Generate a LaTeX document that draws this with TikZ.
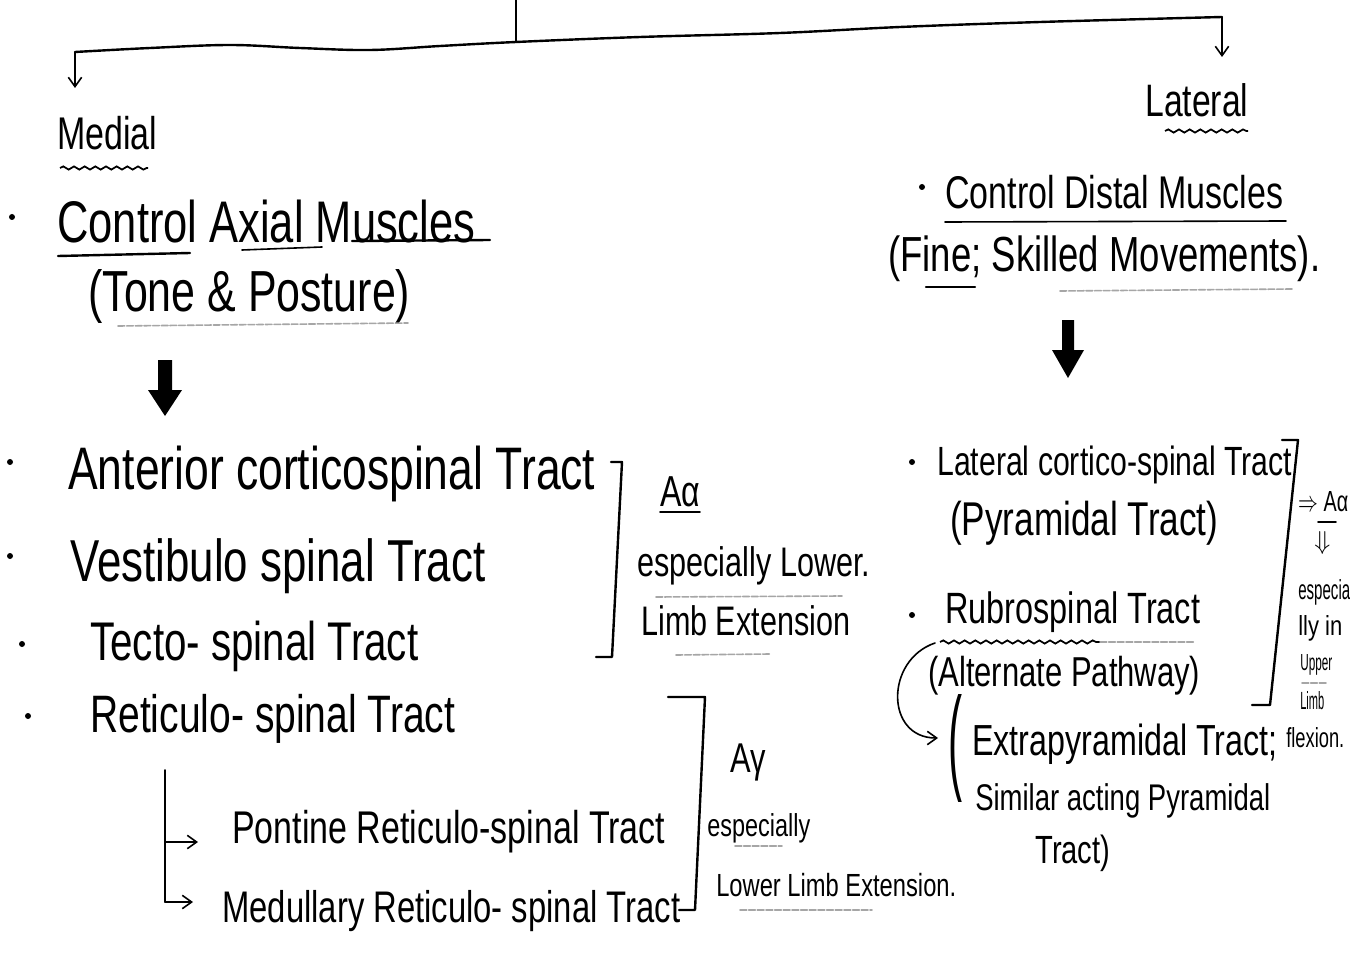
\documentclass[tikz,border=0pt]{standalone}
\usepackage{fontspec}
\setmainfont{Liberation Sans}
\usetikzlibrary{arrows.meta,decorations.pathmorphing}
\newlength\px
\setlength\px{0.75pt}
% handwriting-like text: fitted to a width (px), stretched upwards
\newcommand{\hw}[2]{\scalebox{1}[1.35]{\resizebox{#1\px}{!}{#2}}}
% text fitted to a width and a cap height (px)
\newcommand{\hwb}[3]{\resizebox{#1\px}{#2\px}{#3}}
\tikzset{
  ink/.style={line width=1.8pt, line cap=round, line join=round},
  thin ink/.style={line width=1.2pt, line cap=round, line join=round},
  faint/.style={line width=1.2pt, gray!70, dash pattern=on 5pt off 1.5pt, line cap=round},
  wavy/.style={line width=1.3pt, decorate, decoration={snake, amplitude=1.2pt, segment length=8pt}},
  txt/.style={inner sep=0pt, anchor=west},
  barb/.style={-{Straight Barb[length=7pt,width=10pt]}},
  dot/.style={fill=black}
}
\begin{document}
\begin{tikzpicture}[x=0.75pt,y=-0.75pt]
\useasboundingbox (0,0) rectangle (1350,970);
\fill[white] (0,0) rectangle (1350,970);

% ---- top branching ----
\coordinate (stem) at (516,0);
\coordinate (fork) at (516,42);
\coordinate (lend) at (75,52);
\coordinate (rend) at (1222,17);
\coordinate (ltip) at (75,88);
\coordinate (rtip) at (1222,57);
\draw[ink] (stem) -- (fork);
\draw[ink] plot[smooth, tension=0.6] coordinates
  {(75,52) (150,48) (230,45) (300,48) (370,50) (440,46) (516,42) (640,37) (780,33) (900,27) (1040,22) (1222,17)};
\draw[thin ink, barb] (lend) -- (ltip);
\draw[thin ink, barb] (rend) -- (rtip);

% ---- headings ----
\node[txt] (medial) at (57,133) {\hw{100}{Medial}};
\node[txt] (lateral) at (1145,100) {\hw{103}{Lateral}};
\draw[wavy] (60,168) -- (148,168);
\draw[wavy] (1165,131) -- (1248,131);

% ---- medial column ----
\fill[dot] (12,217) circle (3);
\node[txt] (axial) at (57,222) {\hw{418}{Control Axial Muscles}};
\draw[ink] (58,256) -- (190,253);
\draw[thin ink] (242,250) -- (322,247);
\draw[ink] (352,241) -- (490,240);
\node[txt] (tone) at (88,297) {\hw{322}{(Tone \& Posture)}};
\draw[faint] (118,326) -- (408,323);

% block arrow
\fill (158,360) -- (172,360) -- (172,390) -- (182,390) -- (165,416) -- (148,390) -- (158,390) -- cycle;

\fill[dot] (10,462) circle (3);
\fill[dot] (10,556) circle (3);
\fill[dot] (22,644) circle (3);
\fill[dot] (28,716) circle (3);
\node[txt] (ant) at (68,474) {\hw{527}{Anterior corticospinal Tract}};
\node[txt] (ves) at (70,566) {\hw{415}{Vestibulo spinal Tract}};
\node[txt] (tec) at (90,646) {\hw{328}{Tecto- spinal Tract}};
\node[txt] (ret) at (90,719) {\hw{365}{Reticulo- spinal Tract}};

% bracket for the first three tracts
\draw[ink] (611,462) -- (622,462) -- (612,657) -- (596,657);
\node[txt] (aa) at (660,492) {\hw{40}{Aα}};
\draw[thin ink] (660,512) -- (700,512);
\node[txt] (esp1) at (637,566) {\hw{233}{especially Lower.}};
\draw[faint] (656,597) -- (842,596);
\node[txt] (limb1) at (641,621) {\hw{209}{Limb Extension}};
\draw[faint] (676,655) -- (770,654);

% reticulo-spinal branches
\coordinate (rbr) at (165,770);
\coordinate (pon) at (198,842);
\coordinate (med) at (193,902);
\draw[thin ink] (rbr) -- (165,902);
\draw[thin ink, barb] (165,842) -- (pon);
\draw[thin ink, barb] (165,902) -- (med);
\node[txt] (pont) at (232,832) {\hw{433}{Pontine Reticulo-spinal Tract}};
\node[txt] (medu) at (222,911) {\hw{458}{Medullary Reticulo- spinal Tract}};

% bracket for the reticulo-spinal tracts
\draw[ink] (668,697) -- (705,697) -- (695,910) -- (679,910);
\node[txt] (ag) at (730,762) {\hw{36}{Aγ}};
\node[txt] (esp2) at (707,828) {\hw{103}{especially}};
\draw[faint] (735,846) -- (782,846);
\node[txt] (limb2) at (716,885) {\hw{240}{Lower Limb Extension.}};
\draw[faint] (740,910) -- (872,910);

% ---- lateral column ----
\fill[dot] (922,187) circle (3);
\node[txt] (distal) at (945,192) {\hw{338}{Control Distal Muscles}};
\draw[thin ink] (945,222) -- (1286,221);
\node[txt] (fine) at (888,259) {\hw{432}{(Fine; Skilled Movements).}};
\draw[ink] (926,287) -- (975,287);
\draw[faint] (1060,291) -- (1292,289);

% block arrow
\fill (1062,320) -- (1074,320) -- (1074,350) -- (1084,350) -- (1068,378) -- (1052,350) -- (1062,350) -- cycle;

\fill[dot] (912,462) circle (3);
\node[txt] (latc) at (937,465) {\hw{355}{Lateral cortico-spinal Tract}};
\node[txt] (pyr) at (950,523) {\hw{268}{(Pyramidal Tract)}};
\fill[dot] (912,615) circle (3);
\node[txt] (rub) at (945,612) {\hw{255}{Rubrospinal Tract}};
\draw[wavy] (940,642) -- (1100,642);
\draw[faint] (1100,642) -- (1195,642);
\node[txt] (alt) at (928,676) {\hw{272}{(Alternate Pathway)}};

% curved pointer to the extrapyramidal note
\coordinate (cstart) at (935,643);
\coordinate (cend) at (938,738);
\draw[thin ink, barb] (cstart) .. controls (885,660) and (885,738) .. (cend);
\node[inner sep=0pt, anchor=west] (paren) at (948,748) {\resizebox{14\px}{84\px}{(}};
\node[txt] (extra) at (972,744) {\hw{305}{Extrapyramidal Tract;}};
\node[txt] (simi) at (975,801) {\hw{295}{Similar acting Pyramidal}};
\node[txt] (tract) at (1035,853) {\hw{75}{Tract)}};

% bracket for the lateral tracts
\draw[ink] (1282,440) -- (1298,440) -- (1270,705) -- (1252,705);
\node[txt] (raa) at (1298,502) {\hwb{50}{20}{$\Rightarrow$ Aα}};
\draw[thin ink] (1318,522) -- (1336,522);
\node[txt] (rdn) at (1314,543) {\hwb{16}{18}{$\Downarrow$}};
\node[txt] (r1) at (1298,592) {\hwb{52}{20}{especia}};
\node[txt] (r2) at (1298,628) {\hwb{44}{20}{lly in}};
\node[txt] (r3) at (1300,665) {\hwb{32}{16}{Upper}};
\draw[faint] (1302,683) -- (1326,683);
\node[txt] (r4) at (1300,701) {\hwb{24}{18}{Limb}};
\node[txt] (r5) at (1286,738) {\hwb{58}{20}{flexion.}};
\end{tikzpicture}
\end{document}
